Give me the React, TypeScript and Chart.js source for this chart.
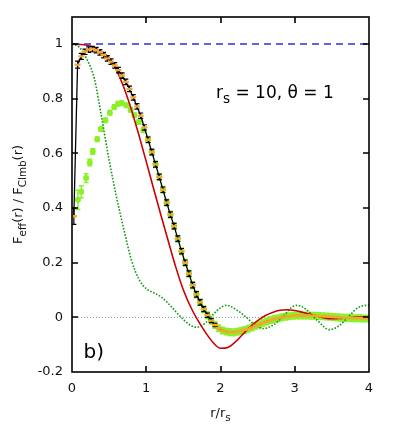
import React, { useEffect, useRef } from "react";
import { Chart, registerables } from "chart.js";

Chart.register(...registerables);

const FONT = '"DejaVu Sans", sans-serif';

// ---- axis ticks ----
const X_TICKS = [0, 1, 2, 3, 4];
const Y_TICKS = [-0.2, 0, 0.2, 0.4, 0.6, 0.8, 1];

// ---- reference levels ----
const unityX = [0, 4];
const unityY = [1, 1];
const zeroX = [0, 4];
const zeroY = [0, 0];

// ---- red solid curve ----
const redX = [0, 0.1, 0.2, 0.3, 0.4, 0.5, 0.6, 0.7, 0.8, 0.9, 1.0, 1.1, 1.2, 1.3, 1.4, 1.5, 1.6, 1.7, 1.8, 1.9, 2.0,
  2.1, 2.2, 2.3, 2.4, 2.5, 2.6, 2.7, 2.8, 2.9, 3.0, 3.1, 3.2, 3.3, 3.4, 3.5, 3.6, 3.7, 3.8, 3.9, 4.0];
const redY = [1.0, 0.999, 0.996, 0.987, 0.972, 0.95, 0.905, 0.84, 0.76, 0.668, 0.57, 0.47, 0.372, 0.276, 0.182, 0.1,
  0.037, -0.013, -0.056, -0.092, -0.113, -0.11, -0.09, -0.062, -0.035, -0.012, 0.006, 0.018, 0.026, 0.028, 0.025,
  0.019, 0.012, 0.005, -0.002, -0.005, -0.004, -0.002, 0.0, 0.001, 0.001];

// ---- dark green dotted curve ----
const dotX = [0, 0.1, 0.2, 0.3, 0.4, 0.5, 0.6, 0.7, 0.8, 0.9, 1.0, 1.1, 1.2, 1.3, 1.4, 1.5, 1.6, 1.68, 1.8, 1.9, 2.0,
  2.08, 2.2, 2.35, 2.45, 2.58, 2.7, 2.85, 2.95, 3.03, 3.15, 3.3, 3.47, 3.6, 3.75, 3.85, 3.97, 4.0];
const dotY = [1.0, 0.988, 0.945, 0.875, 0.73, 0.575, 0.44, 0.32, 0.21, 0.14, 0.105, 0.09, 0.075, 0.05, 0.02, -0.008,
  -0.03, -0.036, -0.02, 0.01, 0.035, 0.044, 0.03, 0.0, -0.025, -0.041, -0.03, 0.005, 0.035, 0.044, 0.03, -0.01,
  -0.045, -0.03, 0.01, 0.035, 0.044, 0.044];

// ---- black data with error bars (orange markers on the same points) ----
const simX = [0.025, 0.075, 0.125, 0.175, 0.225, 0.275, 0.325, 0.375, 0.425, 0.475, 0.525, 0.575, 0.625, 0.675,
  0.725, 0.775, 0.825, 0.875, 0.925, 0.975, 1.025, 1.075, 1.125, 1.175, 1.225, 1.275, 1.325, 1.375, 1.425, 1.475,
  1.525, 1.575, 1.625, 1.675, 1.725, 1.775, 1.825, 1.875, 1.925, 1.975, 2.025, 2.075, 2.125, 2.175, 2.225, 2.275,
  2.325, 2.375, 2.425, 2.475, 2.525, 2.575, 2.625, 2.675, 2.725, 2.775, 2.825, 2.875, 2.925, 2.975, 3.025, 3.075,
  3.125, 3.175, 3.225, 3.275, 3.325, 3.375, 3.425, 3.475, 3.525, 3.575, 3.625, 3.675, 3.725, 3.775, 3.825, 3.875,
  3.925, 3.975];
const simY = [0.37, 0.925, 0.955, 0.972, 0.98, 0.982, 0.978, 0.97, 0.96, 0.948, 0.936, 0.922, 0.905, 0.885, 0.862,
  0.836, 0.805, 0.772, 0.738, 0.695, 0.65, 0.605, 0.56, 0.514, 0.467, 0.42, 0.376, 0.334, 0.288, 0.242, 0.2, 0.16,
  0.118, 0.084, 0.055, 0.03, 0.008, -0.012, -0.028, -0.04, -0.048, -0.052, -0.054, -0.055, -0.053, -0.05, -0.046,
  -0.042, -0.037, -0.031, -0.026, -0.02, -0.015, -0.01, -0.006, -0.003, 0.0, 0.002, 0.004, 0.006, 0.007, 0.007, 0.007,
  0.007, 0.006, 0.006, 0.005, 0.004, 0.003, 0.002, 0.001, 0.0, -0.001, -0.002, -0.002, -0.003, -0.003, -0.003,
  -0.004, -0.004];
const simErr = [0.03, 0.013, 0.011, 0.01, 0.01, 0.01, 0.01, 0.01, 0.01, 0.01, 0.01, 0.01, 0.01, 0.01, 0.01, 0.01,
  0.01, 0.01, 0.01, 0.01, 0.01, 0.01, 0.01, 0.01, 0.01, 0.01, 0.01, 0.01, 0.01, 0.01, 0.01, 0.01, 0.01, 0.01, 0.01,
  0.009, 0.008, 0.007, 0.006, 0, 0, 0, 0, 0, 0, 0, 0, 0, 0, 0, 0, 0, 0, 0, 0, 0, 0, 0, 0, 0, 0, 0, 0, 0, 0, 0, 0,
  0, 0, 0, 0, 0, 0, 0, 0, 0, 0, 0, 0, 0];

// ---- light green points, left part (distinct hump); beyond r/rs = 1 they sit on the black data ----
const lowX = [0.08, 0.125, 0.19, 0.24, 0.28, 0.34, 0.39, 0.45, 0.51, 0.57, 0.62, 0.67, 0.73, 0.79, 0.84, 0.9, 0.96];
const lowY = [0.43, 0.46, 0.51, 0.567, 0.607, 0.652, 0.689, 0.721, 0.749, 0.77, 0.782, 0.784, 0.776, 0.76, 0.74,
  0.715, 0.685];
const lowErr = [0.035, 0.022, 0.016, 0.012, 0.01, 0.008, 0.008, 0.008, 0.008, 0.008, 0.008, 0.008, 0.008, 0.008,
  0.008, 0.008, 0.008];
const greenMergeFrom = 1.0;
const greenTailErr = 0.012;

const pts = (xs: number[], ys: number[]) => xs.map((x, i) => ({ x, y: ys[i] }));
const fmt = (v: number) => String(Math.round(v * 10) / 10);

type Part = { t: string; sub?: boolean };

function drawRich(ctx: CanvasRenderingContext2D, parts: Part[], x: number, y: number, size: number, align: "left" | "center") {
  const subSize = size * 0.8;
  const subDy = size * 0.32;
  const widths = parts.map((p) => {
    ctx.font = `${p.sub ? subSize : size}px ${FONT}`;
    return ctx.measureText(p.t).width;
  });
  const total = widths.reduce((a, b) => a + b, 0);
  let cx = align === "center" ? x - total / 2 : x;
  ctx.textAlign = "left";
  ctx.textBaseline = "alphabetic";
  parts.forEach((p, i) => {
    ctx.font = `${p.sub ? subSize : size}px ${FONT}`;
    ctx.fillText(p.t, cx, y + (p.sub ? subDy : 0));
    cx += widths[i];
  });
}

const errorBarPlugin = {
  id: "errorBars",
  afterDatasetDraw(chart: any, args: any) {
    const ds: any = chart.data.datasets[args.index];
    if (!ds.errors) return;
    const ys = chart.scales.y;
    const ctx: CanvasRenderingContext2D = chart.ctx;
    const a = chart.chartArea;
    ctx.save();
    ctx.beginPath();
    ctx.rect(a.left, a.top, a.right - a.left, a.bottom - a.top);
    ctx.clip();
    ctx.strokeStyle = ds.errorColor;
    ctx.lineWidth = ds.errorWidth;
    const c = ds.capHalf;
    args.meta.data.forEach((pt: any, i: number) => {
      const raw = ds.data[i];
      const e = ds.errors[i];
      if (!e) return;
      const x = pt.x;
      const y1 = ys.getPixelForValue(raw.y - e);
      const y2 = ys.getPixelForValue(raw.y + e);
      ctx.beginPath();
      ctx.moveTo(x, y1);
      ctx.lineTo(x, y2);
      ctx.moveTo(x - c, y1);
      ctx.lineTo(x + c, y1);
      ctx.moveTo(x - c, y2);
      ctx.lineTo(x + c, y2);
      ctx.stroke();
    });
    ctx.restore();
  },
};

const framePlugin = {
  id: "frame",
  afterDatasetsDraw(chart: any) {
    const ctx: CanvasRenderingContext2D = chart.ctx;
    const a = chart.chartArea;
    const xs = chart.scales.x;
    const ys = chart.scales.y;
    const L = Math.round(a.left), R = Math.round(a.right), T = Math.round(a.top), B = Math.round(a.bottom);
    ctx.save();
    ctx.strokeStyle = "#000";
    ctx.lineWidth = 1.6;
    ctx.strokeRect(L, T, R - L, B - T);
    const tl = 6;
    ctx.beginPath();
    X_TICKS.forEach((v) => {
      if (v === X_TICKS[0] || v === X_TICKS[X_TICKS.length - 1]) return;
      const px = Math.round(xs.getPixelForValue(v));
      ctx.moveTo(px, B);
      ctx.lineTo(px, B - tl);
      ctx.moveTo(px, T);
      ctx.lineTo(px, T + tl);
    });
    Y_TICKS.forEach((v) => {
      const py = Math.round(ys.getPixelForValue(v));
      if (Math.abs(py - B) < 1) return;
      ctx.moveTo(L, py);
      ctx.lineTo(L + tl, py);
      ctx.moveTo(R, py);
      ctx.lineTo(R - tl, py);
    });
    ctx.stroke();
    ctx.restore();
  },
  afterDraw(chart: any) {
    const ctx: CanvasRenderingContext2D = chart.ctx;
    const a = chart.chartArea;
    ctx.save();
    ctx.fillStyle = "#111";
    drawRich(ctx, [{ t: "r/r" }, { t: "s", sub: true }], (a.left + a.right) / 2, 417, 13, "center");
    ctx.save();
    ctx.translate(21.5, (a.top + a.bottom) / 2);
    ctx.rotate(-Math.PI / 2);
    drawRich(
      ctx,
      [{ t: "F" }, { t: "eff", sub: true }, { t: "(r) / F" }, { t: "Clmb", sub: true }, { t: "(r)" }],
      0,
      0,
      13,
      "center"
    );
    ctx.restore();
    ctx.fillStyle = "#000";
    drawRich(ctx, [{ t: "r" }, { t: "s", sub: true }, { t: " = 10, θ = 1" }], 216, 98, 17, "left");
    drawRich(ctx, [{ t: "b)" }], 83.5, 358, 20, "left");
    ctx.restore();
  },
};

export default function App() {
  const ref = useRef<HTMLCanvasElement | null>(null);

  useEffect(() => {
    if (!ref.current) return;
    const greenTail = simX
      .map((x, i) => ({ x, y: simY[i] }))
      .filter((p) => p.x >= greenMergeFrom);
    const greenData = [...pts(lowX, lowY), ...greenTail];
    const greenErr = [...lowErr, ...greenTail.map(() => greenTailErr)];

    const chart = new Chart(ref.current, {
      type: "line",
      data: {
        datasets: [
          {
            label: "unity",
            data: pts(unityX, unityY),
            borderColor: "#3030e0",
            borderWidth: 1.5,
            borderDash: [7, 5],
            pointRadius: 0,
            tension: 0,
          },
          {
            label: "orange",
            data: pts(simX, simY),
            showLine: false,
            pointStyle: "line",
            pointRadius: 3,
            pointBorderWidth: 2.4,
            pointBorderColor: "#f0a830",
            pointBackgroundColor: "#f0a830",
            borderColor: "#f0a830",
          },
          {
            label: "black",
            data: pts(simX, simY),
            borderColor: "#000",
            borderWidth: 1.3,
            pointRadius: 0,
            tension: 0,
            errors: simErr,
            errorColor: "#000",
            errorWidth: 1.2,
            capHalf: 2.5,
          } as any,
          {
            label: "red",
            data: pts(redX, redY),
            borderColor: "#cc0000",
            borderWidth: 1.6,
            pointRadius: 0,
            cubicInterpolationMode: "monotone",
          },
          {
            label: "green dotted",
            data: pts(dotX, dotY),
            borderColor: "#109a10",
            borderWidth: 1.6,
            borderDash: [1.6, 1.6],
            pointRadius: 0,
            cubicInterpolationMode: "monotone",
          },
          {
            label: "green points",
            data: greenData,
            showLine: false,
            pointStyle: "circle",
            pointRadius: 3,
            pointBorderWidth: 0,
            pointBackgroundColor: "#8cf028",
            borderColor: "#8cf028",
            errors: greenErr,
            errorColor: "#8cf028",
            errorWidth: 1.5,
            capHalf: 2.5,
          } as any,
          {
            label: "zero",
            data: pts(zeroX, zeroY),
            borderColor: "#8a8a8a",
            borderWidth: 1,
            borderDash: [1, 2],
            pointRadius: 0,
            tension: 0,
          },
        ],
      },
      options: {
        animation: false,
        responsive: false,
        devicePixelRatio: 1,
        layout: { padding: { top: 16, right: 26, left: 0, bottom: 0 } },
        plugins: { legend: { display: false }, tooltip: { enabled: false } },
        scales: {
          x: {
            type: "linear",
            min: 0,
            max: 4,
            afterBuildTicks: (s: any) => {
              s.ticks = X_TICKS.map((v) => ({ value: v }));
            },
            afterFit: (s: any) => {
              s.height = 67;
            },
            grid: { display: false, drawTicks: false },
            border: { display: false },
            ticks: {
              autoSkip: false,
              maxRotation: 0,
              padding: 9,
              color: "#111",
              font: { family: FONT, size: 13 },
              callback: (v: any) => fmt(Number(v)),
            },
          },
          y: {
            type: "linear",
            min: -0.2,
            max: 1.1,
            afterBuildTicks: (s: any) => {
              s.ticks = Y_TICKS.map((v) => ({ value: v }));
            },
            afterFit: (s: any) => {
              s.width = 72;
            },
            grid: { display: false, drawTicks: false },
            border: { display: false },
            ticks: {
              autoSkip: false,
              padding: 9,
              color: "#111",
              font: { family: FONT, size: 13 },
              callback: (v: any) => fmt(Number(v)),
            },
          },
        },
      },
      plugins: [errorBarPlugin, framePlugin],
    });
    return () => chart.destroy();
  }, []);

  return (
    <div style={{ position: "fixed", left: 0, top: 0, width: 395, height: 439, background: "#fff" }}>
      <canvas ref={ref} width={395} height={439} style={{ display: "block", width: 395, height: 439 }} />
    </div>
  );
}
